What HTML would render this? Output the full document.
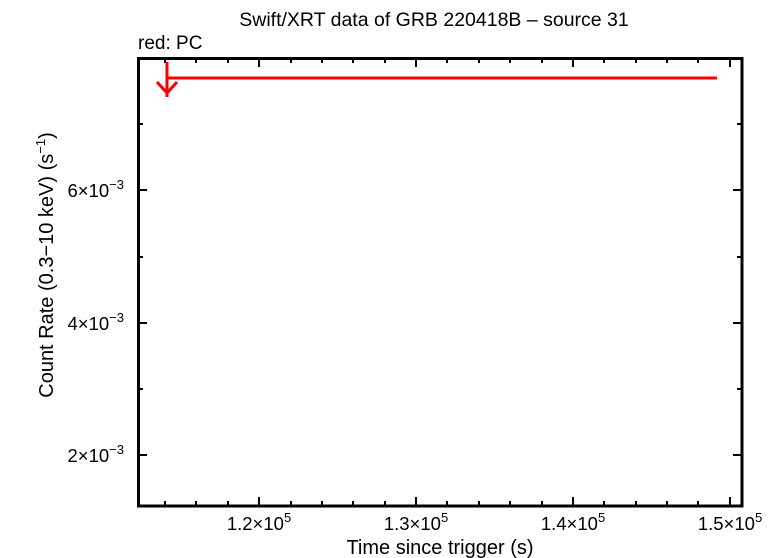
<!DOCTYPE html>
<html><head><style>body{margin:0;background:#fff}svg{display:block}text{font-family:"Liberation Sans",sans-serif;fill:#000}</style></head><body>
<svg width="783" height="558" xmlns="http://www.w3.org/2000/svg">
<rect x="138.5" y="58.5" width="603.5" height="447.5" fill="none" stroke="#000" stroke-width="3"/>
<g stroke="#000" stroke-width="2">
<path d="M165 506v-5M196 506v-5M228 506v-5M259 506v-9M291 506v-5M322 506v-5M353 506v-5M385 506v-5M416 506v-9M447 506v-5M479 506v-5M510 506v-5M542 506v-5M573 506v-9M604 506v-5M636 506v-5M667 506v-5M698 506v-5M730 506v-9"/>
<path d="M165 58v5M196 58v5M228 58v5M259 58v9M291 58v5M322 58v5M353 58v5M385 58v5M416 58v9M447 58v5M479 58v5M510 58v5M542 58v5M573 58v9M604 58v5M636 58v5M667 58v5M698 58v5M730 58v9"/>
<path d="M138 455h9M138 389h5M138 323h9M138 257h5M138 190h9M138 124h5"/>
<path d="M742 455h-9M742 389h-5M742 323h-9M742 257h-5M742 190h-9M742 124h-5"/>
</g>
<g stroke="#f00" stroke-width="3" fill="none">
<path d="M167 78H717"/>
<path d="M167 62V97"/>
<path d="M157 82L167 93L177 82"/>
</g>
<text x="434" y="26" font-size="19.5" text-anchor="middle">Swift/XRT data of GRB 220418B – source 31</text>
<text x="138" y="49" font-size="19">red: PC</text>
<g font-size="18.5" text-anchor="middle">
<text x="259" y="530">1.2×10<tspan font-size="13" dy="-8">5</tspan></text>
<text x="416" y="530">1.3×10<tspan font-size="13" dy="-8">5</tspan></text>
<text x="573" y="530">1.4×10<tspan font-size="13" dy="-8">5</tspan></text>
<text x="730" y="530">1.5×10<tspan font-size="13" dy="-8">5</tspan></text>
</g>
<g font-size="18.5" text-anchor="end">
<text x="124" y="197">6×10<tspan font-size="13" dy="-8">−3</tspan></text>
<text x="124" y="330">4×10<tspan font-size="13" dy="-8">−3</tspan></text>
<text x="124" y="462">2×10<tspan font-size="13" dy="-8">−3</tspan></text>
</g>
<text x="440" y="554" font-size="20" text-anchor="middle">Time since trigger (s)</text>
<text transform="translate(53,265) rotate(-90)" font-size="20" text-anchor="middle">Count Rate (0.3−10 keV) (s<tspan font-size="13" dy="-8">−1</tspan><tspan dy="8">)</tspan></text>
</svg>
</body></html>
